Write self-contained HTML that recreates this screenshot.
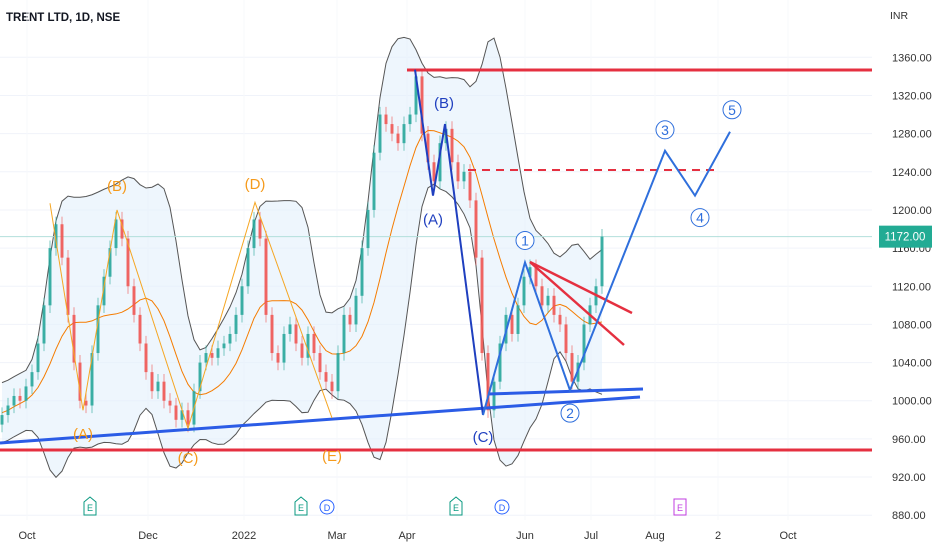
<!DOCTYPE html>
<html><head><meta charset="utf-8"><style>
html,body{margin:0;padding:0;background:#fff;width:932px;height:550px;overflow:hidden;font-family:"Liberation Sans",sans-serif}
svg{display:block}
</style></head><body>
<svg id="chart" width="932" height="550" xmlns="http://www.w3.org/2000/svg">
<text x="6" y="21" font-size="11.5" font-weight="bold" fill="#131722">TRENT LTD, 1D, NSE</text>
<text x="890" y="19" font-size="10.5" fill="#333">INR</text>
</svg>
<script>
const yTicks=[1360,1320,1280,1240,1200,1160,1120,1080,1040,1000,960,920,880];
const xTickLabels=["Oct","Dec","2022","Mar","Apr","Jun","Jul","Aug","2","Oct"];
const xTickPos=[27,148,244,337,407,525,591,655,718,788];
const closes=[985,995,1005,1000,1015,1030,1060,1100,1160,1185,1150,1090,1040,1000,995,1050,1100,1130,1160,1190,1170,1120,1090,1060,1030,1010,1020,1000,995,980,990,975,1010,1040,1050,1045,1055,1060,1070,1090,1120,1160,1190,1170,1090,1050,1040,1070,1080,1060,1045,1070,1050,1030,1020,1010,1050,1090,1080,1110,1160,1200,1260,1300,1290,1280,1270,1290,1300,1340,1280,1250,1230,1270,1285,1250,1230,1240,1210,1150,1050,990,1020,1060,1090,1070,1100,1130,1140,1120,1100,1110,1090,1080,1050,1020,1040,1080,1100,1120,1172];
const lastPrice=1172;
const orangeWave=[[50,1207],[83,990],[117,1200],[188,971],[255,1208],[332,982]];
const orangeLabels=[["(A)",83,965],["(B)",117,1225],["(C)",188,940],["(D)",255,1227],["(E)",332,942]];
const abcWave=[[415,1347],[433,1215],[445,1290],[483,985]];
const abcLabels=[["(B)",444,1312],["(A)",433,1190],["(C)",483,962]];
const impulse=[[483,985],[525,1145],[570,1011],[665,1262],[695,1215],[730,1282]];
const impulseLabels=[["1",525,1168],["2",570,987],["3",665,1284],["4",700,1192],["5",732,1305]];

const svg=document.getElementById('chart');
const NS='http://www.w3.org/2000/svg';
const Y=p=>57.3+(1360-p)*0.954;
const X=i=>i*6+2;
function mk(tag,attrs,parent){const e=document.createElementNS(NS,tag);for(const k in attrs)e.setAttribute(k,attrs[k]);(parent||svg).appendChild(e);return e;}
const g0=mk('g',{});
yTicks.forEach(v=>{
 const l=mk('line',{x1:0,x2:872,y1:Y(v),y2:Y(v),stroke:'#f0f3fa','stroke-width':1},g0);
 
 
 const t=mk('text',{x:892,y:Y(v)+4,'font-size':11,fill:'#333'},g0);t.textContent=v.toFixed(2);
 
 
});
xTickLabels.forEach((s,i)=>{
 const l=mk('line',{x1:xTickPos[i],x2:xTickPos[i],y1:0,y2:520,stroke:'#f7f8fb','stroke-width':1},g0);
 
 
 const t=mk('text',{x:xTickPos[i],y:539,'font-size':11,fill:'#333','text-anchor':'middle'},g0);t.textContent=s;
 
 
});
const N=10,mid=[],up0=[],lo0=[];
closes.forEach((c,i)=>{const s=closes.slice(Math.max(0,i-N+1),i+1);const m=s.reduce((a,b)=>a+b,0)/s.length;const sd=Math.sqrt(s.reduce((a,b)=>a+(b-m)*(b-m),0)/s.length);mid.push(m);up0.push(m+2.1*Math.max(sd,15));lo0.push(m-2.1*Math.max(sd,15));});
const smooth=a=>a.map((v,i)=>{const s=a.slice(Math.max(0,i-1),i+2);return s.reduce((x,y)=>x+y,0)/s.length;});
const up=smooth(up0),lo=smooth(lo0),mids=smooth(mid);
const pts=a=>a.map((v,i)=>X(i)+','+Y(v)).join(' ');
const band=mk('polygon',{points:pts(up)+' '+lo.map((v,i)=>[X(i),Y(v)]).reverse().map(p=>p.join(',')).join(' '),fill:'#e3f0fb','fill-opacity':0.6});


[[up,'#555','bollinger-upper'],[lo,'#555','bollinger-lower'],[mids,'#f57c00','bollinger-basis']].forEach(([a,c,n])=>{const l=mk('polyline',{points:pts(a),fill:'none',stroke:c,'stroke-width':1});
 
 });
const lp=mk('line',{x1:0,x2:872,y1:Y(lastPrice),y2:Y(lastPrice),stroke:'#b2dfdb','stroke-width':1});


closes.forEach((c,i)=>{
 const o=i?closes[i-1]:c-10;const up2=c>=o;const col=up2?'#26a69a':'#ef5350';
 const hi=Math.max(o,c)+8,lw=Math.min(o,c)-8;
 const w=mk('line',{x1:X(i),x2:X(i),y1:Y(hi),y2:Y(lw),stroke:col,'stroke-width':1,'stroke-opacity':0.6});
 
 
 const b=mk('rect',{x:X(i)-1.5,y:Y(Math.max(o,c)),width:3,height:Math.max(1,Math.abs(Y(o)-Y(c))),fill:col,'fill-opacity':0.85});
 
 
});
function line(x1,y1,x2,y2,col,w,name,dash){const l=mk('line',{x1,y1,x2,y2,stroke:col,'stroke-width':w});if(dash)l.setAttribute('stroke-dasharray',dash);
 
 }
line(407,70,872,70,'#e53040',3,'resistance-line');
line(0,450,872,450,'#e53040',3,'support-line');
line(0,443,640,397,'#2b5ce6',3,'rising-trendline');
line(488,394,643,389,'#2b5ce6',3,'wave2-base-line');
line(468,170,718,170,'#e53040',2,'target-dashed-line','8,6');
line(530,262,632,313,'#e53040',2.5,'upper-wedge-line');
line(530,262,624,345,'#e53040',2.5,'lower-wedge-line');
function wave(arr,col,w,name){const l=mk('polyline',{points:arr.map(p=>p[0]+','+Y(p[1])).join(' '),fill:'none',stroke:col,'stroke-width':w});
 
 }
wave(orangeWave,'#f5a623',1,'orange-wave');
wave(abcWave,'#1f3fbf',2,'abc-correction-wave');
wave(impulse,'#2f6fdc',2,'impulse-wave');
orangeLabels.forEach(([s,x,p])=>{const t=mk('text',{x,y:Y(p)+5,'font-size':15,fill:'#f59a1b','text-anchor':'middle'});t.textContent=s;
 
 });
abcLabels.forEach(([s,x,p])=>{const t=mk('text',{x,y:Y(p)+5,'font-size':15,fill:'#1f3fbf','text-anchor':'middle'});t.textContent=s;
 
 });
impulseLabels.forEach(([s,x,p])=>{const c=mk('circle',{cx:x,cy:Y(p),r:9,fill:'#fff',stroke:'#2f6fdc','stroke-width':1});
 
 
 const t=mk('text',{x,y:Y(p)+5,'font-size':14,fill:'#2f6fdc','text-anchor':'middle'});t.textContent=s;
 
 });
const pb=mk('rect',{x:879,y:Y(lastPrice)-11,width:53,height:22,fill:'#22ab94'});


const pt=mk('text',{x:905,y:Y(lastPrice)+4,'font-size':11.5,fill:'#fff','text-anchor':'middle'});pt.textContent='1172.00';


const evX=[90,301,456,327,502,680];const evT=['E','E','E','D','D','E'];const evK=['e','e','e','d','d','p'];
evX.forEach((x,i)=>{let s;
 if(evK[i]==='d'){s=mk('circle',{cx:x,cy:507,r:7,fill:'#fff',stroke:'#2962ff','stroke-width':1});}
 else if(evK[i]==='p'){s=mk('rect',{x:x-6,y:499,width:12,height:16,fill:'#fff',stroke:'#c03ee0','stroke-width':1});}
 else{s=mk('path',{d:`M${x-6} 502 L${x} 497 L${x+6} 502 L${x+6} 515 L${x-6} 515 Z`,fill:'#fff',stroke:'#089981','stroke-width':1});}
 
 
 const t=mk('text',{x,y:511,'font-size':9,fill:evK[i]==='d'?'#2962ff':evK[i]==='p'?'#c03ee0':'#089981','text-anchor':'middle'});t.textContent=evT[i];
 
 
});
</script>
</body></html>
